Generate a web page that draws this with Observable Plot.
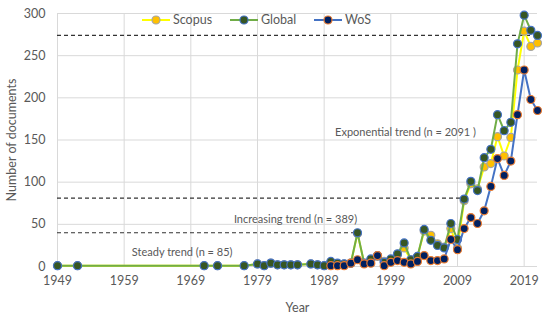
<!DOCTYPE html>
<html>
<head>
<meta charset="utf-8">
<script src="https://cdn.jsdelivr.net/npm/d3@7"></script>
<script src="https://cdn.jsdelivr.net/npm/@observablehq/plot@0.6"></script>
<style>
  html, body { margin: 0; padding: 0; background: white; }
  #wrap { position: relative; width: 550px; height: 322px; font-family: Lato, "Open Sans", sans-serif; }
  #legend { position: absolute; left: 0; top: 0; }
</style>
</head>
<body>
<div id="wrap"></div>
<script>
// ---- data ----
const years = [1949,1952,1971,1973,1977,1979,1980,1981,1982,1983,1984,1985,
  1987,1988,1989,1990,1991,1992,1993,1994,1995,1996,1997,1998,1999,
  2000,2001,2002,2003,2004,2005,2006,2007,2008,2009,
  2010,2011,2012,2013,2014,2015,2016,2017,2018,2019,2020,2021];
const globalDocs = [1,1,1,1,1,3,1,4,2,2,2,2,
  3,2,1,6,4,3,4,40,4,9,13,5,9,
  15,28,8,12,44,31,25,22,51,32,
  80,101,90,129,139,180,161,171,264,298,280,274];
const scopusDocs = [1,1,1,1,1,3,1,4,2,2,2,2,
  3,2,1,5,3,3,4,39,4,8,12,6,8,
  14,22,8,12,42,37,27,23,45,22,
  78,98,92,118,122,154,131,153,233,279,261,265];
const wosYears = [1990,1991,1992,1993,1994,1995,1996,1997,1998,1999,
  2000,2001,2002,2003,2004,2005,2006,2007,2008,2009,
  2010,2011,2012,2013,2014,2015,2016,2017,2018,2019,2020,2021];
const wosDocs = [1,1,1,4,8,3,4,13,1,5,
  7,5,3,6,13,7,7,9,32,20,
  45,58,51,66,95,128,108,125,180,233,198,185];

const seriesNames = ["Scopus", "Global", "WoS"];
const xTicks = [1949,1959,1969,1979,1989,1999,2009,2019];
const yTicks = [0,50,100,150,200,250,300];

// trend thresholds (dashed lines) and labels
const trendLevels = [274, 81, 40];
const trendStart = [1949, 1949, 1949];
const trendEnd = [2021, 2010, 1994];
const trendLabels = ["Exponential trend (n = 2091 )", "Increasing trend (n = 389)", "Steady trend (n = 85)"];
const trendLabelYear = [2001.2, 1984.7, 1967.7];
const trendLabelValue = [159.5, 56, 16.3];

// ---- build tables ----
const scopus = years.map((y, i) => ({year: y, docs: scopusDocs[i]}));
const global = years.map((y, i) => ({year: y, docs: globalDocs[i]}));
const wos = wosYears.map((y, i) => ({year: y, docs: wosDocs[i]}));
const trends = trendLevels.map((v, i) => ({level: v, start: trendStart[i], end: trendEnd[i],
  label: trendLabels[i], lx: trendLabelYear[i], ly: trendLabelValue[i]}));

const colors = {
  Scopus: {line: "#FFFF00", fill: "#FFC000", stroke: "#A5A5A5"},
  Global: {line: "#70AD47", fill: "#375623", stroke: "#4472C4"},
  WoS:    {line: "#4472C4", fill: "#002060", stroke: "#ED7D31"}
};

function seriesMarks(data, c) {
  return [
    Plot.line(data, {x: "year", y: "docs", stroke: c.line, strokeWidth: 2}),
    Plot.dot(data, {x: "year", y: "docs", r: 4, fill: c.fill, stroke: c.stroke, strokeWidth: 1.2})
  ];
}

const chart = Plot.plot({
  width: 550, height: 322,
  marginLeft: 57, marginRight: 13, marginTop: 13, marginBottom: 56,
  style: {fontFamily: "Lato, 'Open Sans', sans-serif", fontSize: "12px", color: "#595959", background: "white"},
  x: {domain: [1949, 2021]},
  y: {domain: [0, 300]},
  marks: [
    Plot.gridX(xTicks, {stroke: "#d9d9d9", strokeOpacity: 1}),
    Plot.gridY(yTicks, {stroke: "#d9d9d9", strokeOpacity: 1}),
    Plot.axisX(xTicks, {tickSize: 0, tickPadding: 10, tickFormat: d => String(d),
      label: "Year", labelAnchor: "center", labelOffset: 45, labelArrow: "none", fontSize: 12.5}),
    Plot.axisY(yTicks, {tickSize: 0, tickPadding: 12,
      label: "Number of documents", labelAnchor: "center", labelOffset: 50, labelArrow: "none", fontSize: 12.5}),
    Plot.ruleY(trends, {y: "level", x1: "start", x2: "end", stroke: "#333", strokeWidth: 1.2, strokeDasharray: "4,3"}),
    Plot.text(trends, {x: "lx", y: "ly", text: "label", fill: "#595959", fontSize: 11}),
    ...seriesMarks(scopus, colors.Scopus),
    ...seriesMarks(global, colors.Global),
    ...seriesMarks(wos, colors.WoS)
  ]
});

const wrap = document.getElementById("wrap");
wrap.appendChild(chart);

// ---- legend (overlay at top of plot) ----
const legendX = [156, 244, 328];
const svg = d3.select(wrap).append("svg").attr("id", "legend")
  .attr("width", 550).attr("height", 40);
seriesNames.forEach((name, i) => {
  const c = colors[name], cx = legendX[i], cy = 20;
  svg.append("line").attr("x1", cx - 14).attr("x2", cx + 14).attr("y1", cy).attr("y2", cy)
    .attr("stroke", c.line).attr("stroke-width", 2);
  svg.append("circle").attr("cx", cx).attr("cy", cy).attr("r", 4)
    .attr("fill", c.fill).attr("stroke", c.stroke).attr("stroke-width", 1.2);
  svg.append("text").attr("x", cx + 17).attr("y", cy).attr("dy", "0.35em")
    .attr("fill", "#595959").attr("font-size", 12.5)
    .attr("font-family", "Lato, 'Open Sans', sans-serif").text(name);
});
</script>
</body>
</html>
